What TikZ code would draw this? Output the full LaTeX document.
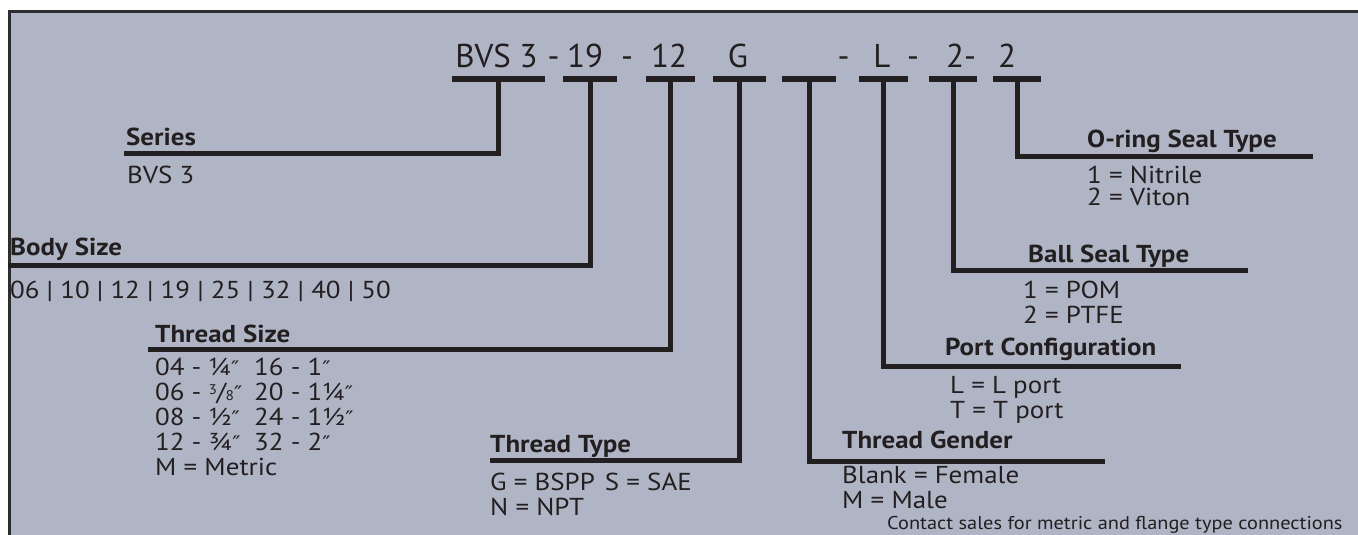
\documentclass[tikz,border=0pt]{standalone}
\usepackage{fontspec}
\setmainfont[FakeStretch=1.1]{PT Sans}
\newfontfamily\codefont{PT Sans}
\newfontfamily\primefont[FakeStretch=1.1]{DejaVu Sans}
\definecolor{panel}{RGB}{176,181,198}
\definecolor{ink}{RGB}{35,31,32}
\definecolor{rim}{RGB}{45,45,48}
\newcommand{\inch}{{\primefont\fontsize{20}{20}\selectfont ″}}
\newcommand{\thrEighth}{\raisebox{0.45ex}{\fontsize{14}{14}\selectfont 3}\kern-0.02em/\kern-0.02em{\fontsize{14}{14}\selectfont 8}}
\newcommand{\colA}[1]{\makebox[99pt][l]{#1}}
\begin{document}
\begin{tikzpicture}[x=1pt,y=-1pt]
      %% Styles for the ordering code
      \tikzset
      {
      bar/.style={fill=ink, inner sep=0pt, outer sep=0pt, minimum height=6pt},
      lead/.style={draw=ink, line width=5pt},
      code/.style={anchor=base, inner sep=0pt, text=ink, font=\codefont\fontsize{33}{33}\selectfont},
      head/.style={anchor=base west, inner sep=0pt, text=ink, font=\bfseries\fontsize{24.5}{25}\selectfont},
      opt/.style={anchor=base west, inner sep=0pt, text=ink, font=\fontsize{24.5}{25}\selectfont},
      % note/.style = {opt}
      }
      %% Panel and frame
      \useasboundingbox (0,0) rectangle (1358,535);
      \fill[white] (0,0) rectangle (1358,535);
      \fill[panel] (8,10.5) rectangle (1358,535);
      \draw[rim, line width=2.6pt] (9.3,535) |- (1358,11.8);
      %% Code
      \node[code] (cSer) at (496.5,68) {BVS 3};
      \node[code] (d1) at (553.5,68) {-};
      \node[code] (cBody) at (585,68) {19};
      \node[code] (d2) at (627,68) {-};
      \node[code] (cThr) at (669,68) {12};
      \node[code] (cType) at (738,68) {G};
      \node[code] (d3) at (843.5,68) {-};
      \node[code] (cPort) at (882,68) {L};
      \node[code] (d4) at (913,68) {-};
      \node[code] (cBall) at (961,68) {2-};
      \node[code] (cRing) at (1007,68) {2};
      %% Bars
      \node[bar, minimum width=93pt] (b1) at (498.5,79) {};
      \node[bar, minimum width=54pt] (b2) at (590,79) {};
      \node[bar, minimum width=49pt] (b3) at (670.5,79) {};
      \node[bar, minimum width=53pt] (b4) at (739.5,79) {};
      \node[bar, minimum width=54pt] (b5) at (809,79) {};
      \node[bar, minimum width=49pt] (b6) at (883.5,79) {};
      \node[bar, minimum width=48pt] (b7) at (953,79) {};
      \node[bar, minimum width=48pt] (b8) at (1017,79) {};
      %% Line ends
      \coordinate (serL) at (124,153.5);
      \coordinate (bodyL) at (8,265.5);
      \coordinate (thrL) at (148,349.5);
      \coordinate (typeL) at (490,460.5);
      \coordinate (gendR) at (1105,461);
      \coordinate (portR) at (1181,366.5);
      \coordinate (ballR) at (1248,270.5);
      \coordinate (ringR) at (1313,156.5);
      %% Leads
      \draw[lead] (b1.center) |- (serL)
      (b2.center) |- (bodyL)
      (b3.center) |- (thrL)
      (b4.center) |- (typeL)
      (b5.center) |- (gendR)
      (b6.center) |- (portR)
      (b7.center) |- (ballR)
      (b8.center) |- (ringR);
      %% Labels
      \node[head] (hSer) at (126,145) {Series};
      \node[opt] (oSer) at (127,183) {BVS 3};
      \node[head] (hBody) at (10,255) {Body Size};
      \node[opt] (oBody) at (10,298) {06 | 10 | 12 | 19 | 25 | 32 | 40 | 50};
      \node[head] (hThr) at (155,342) {Thread Size};
      \node[opt] (oThr) at (155,375) {\begin{tabular}[t]{@{}l@{}}
      \colA{04 - ¼\inch}16 - 1\inch\\
      \colA{06 - \thrEighth\inch}20 - 1¼\inch\\
      \colA{08 - ½\inch}24 - 1½\inch\\
      \colA{12 - ¾\inch}32 - 2\inch\\
      M = Metric
      \end{tabular}};
      \node[head] (hType) at (490,452) {Thread Type};
      \node[opt] (oType) at (490,490) {\begin{tabular}[t]{@{}l@{}}
      G = BSPP\hspace{10pt}S = SAE\\
      N = NPT
      \end{tabular}};
      \node[head] (hGend) at (842,448) {Thread Gender};
      \node[opt] (oGend) at (842,483) {\begin{tabular}[t]{@{}l@{}}
      Blank = Female\\
      M = Male
      \end{tabular}};
      \node[head] (hPort) at (945,355) {Port Configuration};
      \node[opt] (oPort) at (950,393) {\begin{tabular}[t]{@{}l@{}}
      L = L port\\
      T = T port
      \end{tabular}};
      \node[head] (hBall) at (1028,262) {Ball Seal Type};
      \node[opt] (oBall) at (1023,298) {\begin{tabular}[t]{@{}l@{}}
      1 = POM\\
      2 = PTFE
      \end{tabular}};
      \node[head] (hRing) at (1087,147) {O-ring Seal Type};
      \node[opt] (oRing) at (1087,183) {\begin{tabular}[t]{@{}l@{}}
      1 = Nitrile\\[-3pt]
      2 = Viton
      \end{tabular}};
      \node[opt, font=\fontsize{18.5}{18.5}\selectfont] (note) at (887,529) {Contact sales for metric and flange type connections};
   \end{tikzpicture}
\end{document}
